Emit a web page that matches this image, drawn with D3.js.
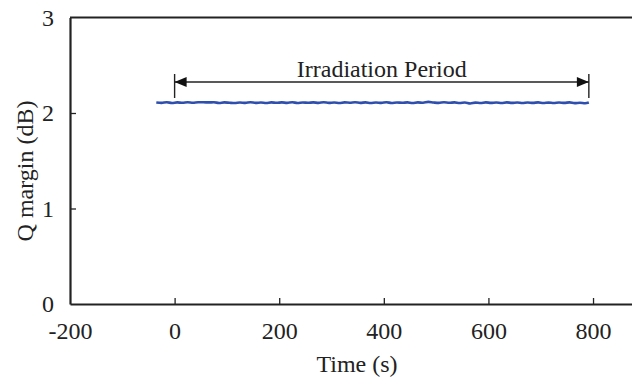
<!DOCTYPE html>
<html>
<head>
<meta charset="utf-8">
<script src="https://cdn.jsdelivr.net/npm/d3@7"></script>
<style>
  body { margin: 0; background: #fff; }
  svg { display: block; }
  text { font-family: "Liberation Serif", "DejaVu Serif", serif; fill: #222; }
</style>
</head>
<body>
<svg id="chart" width="632" height="379"></svg>
<script>
// data
const times = [-35, -25, -15, -5, 5, 15, 25, 35, 45, 55, 65, 75, 85, 95, 105, 115, 125, 135, 145, 155,
  165, 175, 185, 195, 205, 215, 225, 235, 245, 255, 265, 275, 285, 295, 305, 315, 325, 335, 345, 355,
  365, 375, 385, 395, 405, 415, 425, 435, 445, 455, 465, 475, 485, 495, 505, 515, 525, 535, 545, 555,
  565, 575, 585, 595, 605, 615, 625, 635, 645, 655, 665, 675, 685, 695, 705, 715, 725, 735, 745, 755,
  765, 775, 785, 792];
const qMargin = [2.110, 2.106, 2.112, 2.105, 2.111, 2.107, 2.112, 2.108, 2.112, 2.112, 2.111, 2.112, 2.105, 2.111, 2.107, 2.104, 2.110, 2.106, 2.112, 2.106,
  2.110, 2.105, 2.111, 2.107, 2.111, 2.106, 2.112, 2.105, 2.110, 2.107, 2.111, 2.106, 2.112, 2.106, 2.110, 2.105, 2.111, 2.108, 2.112, 2.106,
  2.111, 2.105, 2.110, 2.106, 2.112, 2.105, 2.110, 2.107, 2.111, 2.105, 2.111, 2.107, 2.116, 2.110, 2.106, 2.112, 2.107, 2.111, 2.104, 2.110,
  2.100, 2.109, 2.104, 2.111, 2.106, 2.110, 2.105, 2.111, 2.106, 2.110, 2.104, 2.110, 2.106, 2.111, 2.105, 2.109, 2.104, 2.110, 2.106, 2.111,
  2.103, 2.108, 2.102, 2.110];
const xTicks = [-200, 0, 200, 400, 600, 800];
const yTicks = [0, 1, 2, 3];
const periodStart = 0;
const periodEnd = 792;
const periodLabel = "Irradiation Period";

const svg = d3.select("#chart");
const plotLeft = 70, plotTop = 17.5, plotBottom = 304, plotRight = 632;

const x = d3.scaleLinear().domain([-200, 874.5]).range([plotLeft, plotRight]);
const y = d3.scaleLinear().domain([0, 3]).range([plotBottom, plotTop]);

// top border
svg.append("line")
  .attr("x1", plotLeft).attr("x2", plotRight)
  .attr("y1", y(3)).attr("y2", y(3))
  .style("stroke", "#222").style("stroke-width", 2);

// x axis
const xAxis = svg.append("g")
  .attr("transform", `translate(0,${plotBottom})`)
  .call(d3.axisBottom(x).tickValues(xTicks).tickFormat(d => String(d))
    .tickSizeInner(-6).tickSizeOuter(0).tickPadding(18));
xAxis.select(".domain").style("stroke", "#222").style("stroke-width", 2.2);
xAxis.selectAll(".tick line").style("stroke", "#222").style("stroke-width", 1.3)
  .filter(d => d === -200).remove();
xAxis.selectAll(".tick text").style("font-size", "24px").attr("fill", "#222");

// y axis
const yAxis = svg.append("g")
  .attr("transform", `translate(${plotLeft},0)`)
  .call(d3.axisLeft(y).tickValues(yTicks).tickFormat(d => String(d))
    .tickSizeInner(-6).tickSizeOuter(0).tickPadding(16));
yAxis.select(".domain").style("stroke", "#222").style("stroke-width", 2.2);
yAxis.selectAll(".tick line").style("stroke", "#222").style("stroke-width", 1.3)
  .filter(d => d === 0 || d === 3).remove();
yAxis.selectAll(".tick text").style("font-size", "24px").attr("fill", "#222");

// axis titles
svg.append("text")
  .attr("x", 357).attr("y", 372)
  .attr("text-anchor", "middle")
  .style("font-size", "24px")
  .text("Time (s)");

svg.append("text")
  .attr("transform", "translate(33,171) rotate(-90)")
  .attr("text-anchor", "middle")
  .style("font-size", "24px")
  .text("Q margin (dB)");

// data line
const line = d3.line()
  .x((d, i) => x(times[i]))
  .y(d => y(d))
  .curve(d3.curveMonotoneX);

svg.append("path")
  .datum(qMargin)
  .attr("d", line)
  .style("fill", "none")
  .style("stroke", "#2f4fae")
  .style("stroke-width", 2.6);

// irradiation period annotation
const arrowY = 82;
const ann = svg.append("g").style("stroke", "#222");
ann.append("line")
  .attr("x1", x(periodStart)).attr("x2", x(periodEnd))
  .attr("y1", arrowY).attr("y2", arrowY)
  .style("stroke-width", 1.4);
[periodStart, periodEnd].forEach(t => {
  ann.append("line")
    .attr("x1", x(t)).attr("x2", x(t))
    .attr("y1", 74).attr("y2", 98)
    .style("stroke-width", 1.4);
});
const head = 12, half = 5;
ann.append("path")
  .attr("d", `M${x(periodStart)},${arrowY} L${x(periodStart) + head},${arrowY - half} L${x(periodStart) + head},${arrowY + half} Z`)
  .style("fill", "#111").style("stroke", "none");
ann.append("path")
  .attr("d", `M${x(periodEnd)},${arrowY} L${x(periodEnd) - head},${arrowY - half} L${x(periodEnd) - head},${arrowY + half} Z`)
  .style("fill", "#111").style("stroke", "none");

svg.append("text")
  .attr("x", (x(periodStart) + x(periodEnd)) / 2)
  .attr("y", 77)
  .attr("text-anchor", "middle")
  .style("font-size", "24px")
  .text(periodLabel);
</script>
</body>
</html>
